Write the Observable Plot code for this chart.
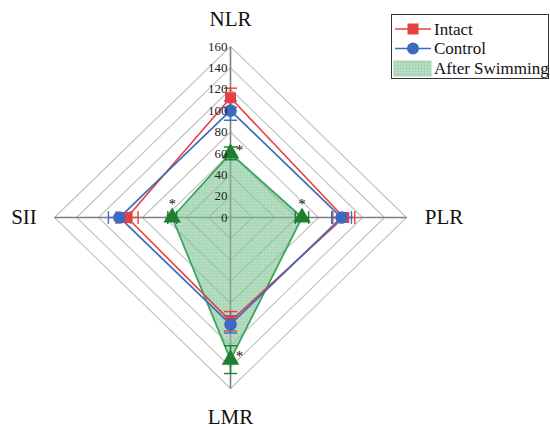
<!DOCTYPE html>
<html><head><meta charset="utf-8">
<script src="https://cdn.jsdelivr.net/npm/d3@7"></script>
<script src="https://cdn.jsdelivr.net/npm/@observablehq/plot@0.6"></script>
<style>
body{margin:0;background:#fff;}
#wrap{position:relative;width:550px;height:429px;font-family:'Liberation Serif',serif;}
#wrap text{font-family:'Liberation Serif',serif !important;}
#legend{position:absolute;left:391px;top:14px;}
</style></head><body><div id="wrap"></div>
<script>
const axisNames = ["NLR", "PLR", "LMR", "SII"];
const intact = [112, 103, 97, 94];
const intactErr = [9, 10, 9, 10];
const control = [100, 101, 100, 101];
const controlErr = [9, 9, 8, 10];
const swim = [60, 65, 133, 53];
const swimErr = [6, 6, 13, 4];
const tickValues = [0, 20, 40, 60, 80, 100, 120, 140, 160];
const seriesNames = ["Intact", "Control", "After Swimming"];

const RED = "#e8403e", BLUE = "#3a6bc0", GREEN = "#3ba55c", DKGREEN = "#1e7f31";
const SERIF = "Liberation Serif";
const maxR = 160;
const dirs = {NLR: [0, 1], PLR: [1, 0], LMR: [0, -1], SII: [-1, 0]};
const cap = 6;

function pts(vals, name) {
  return axisNames.map((a, i) => ({axis: a, v: vals[i], x: dirs[a][0] * vals[i], y: dirs[a][1] * vals[i], name}));
}
function closed(p) { return [...p, p[0]]; }

const grid = [];
tickValues.filter(t => t > 0).forEach(t => {
  axisNames.concat([axisNames[0]]).forEach(a => grid.push({r: t, x: dirs[a][0] * t, y: dirs[a][1] * t}));
});
const spokes = [
  {x1: -maxR, y1: 0, x2: maxR, y2: 0},
  {x1: 0, y1: -maxR, x2: 0, y2: maxR}
];

function errs(vals, e, name) {
  const out = [];
  axisNames.forEach((a, i) => {
    const [dx, dy] = dirs[a];
    const lo = vals[i] - e[i], hi = vals[i] + e[i];
    out.push({x1: dx * lo, y1: dy * lo, x2: dx * hi, y2: dy * hi, name});
    [lo, hi].forEach(v => {
      out.push({x1: dx * v - dy * cap, y1: dy * v - dx * cap, x2: dx * v + dy * cap, y2: dy * v + dx * cap, name});
    });
  });
  return out;
}

const pI = pts(intact, "Intact"), pC = pts(control, "Control"), pS = pts(swim, "After Swimming");
const labels = axisNames.map(a => ({axis: a, x: dirs[a][0] * maxR, y: dirs[a][1] * maxR}));

const plot = Plot.plot({
  width: 550, height: 429,
  marginLeft: 54, marginRight: 144, marginTop: 46, marginBottom: 41,
  x: {domain: [-maxR, maxR], axis: null},
  y: {domain: [-maxR, maxR], axis: null},
  style: {fontFamily: SERIF, overflow: "visible"},
  marks: [
    Plot.line(grid, {x: "x", y: "y", z: "r", stroke: "#c2c2c2", strokeWidth: 1.1}),
    Plot.link(spokes, {x1: "x1", y1: "y1", x2: "x2", y2: "y2", stroke: "#7f7f7f", strokeWidth: 1.6}),
    Plot.line(closed(pS), {x: "x", y: "y", fill: "url(#swimfill)", stroke: GREEN, strokeWidth: 1.8}),
    Plot.line(closed(pI), {x: "x", y: "y", stroke: RED, strokeWidth: 1.6}),
    Plot.line(closed(pC), {x: "x", y: "y", stroke: BLUE, strokeWidth: 1.6}),
    Plot.link(errs(intact, intactErr, "Intact"), {x1: "x1", y1: "y1", x2: "x2", y2: "y2", stroke: RED, strokeWidth: 1.4}),
    Plot.link(errs(control, controlErr, "Control"), {x1: "x1", y1: "y1", x2: "x2", y2: "y2", stroke: BLUE, strokeWidth: 1.4}),
    Plot.link(errs(swim, swimErr, "After Swimming"), {x1: "x1", y1: "y1", x2: "x2", y2: "y2", stroke: DKGREEN, strokeWidth: 1.4}),
    Plot.dot(pI, {x: "x", y: "y", symbol: "square", r: 6.2, fill: RED}),
    Plot.dot(pC, {x: "x", y: "y", symbol: "circle", r: 6.3, fill: BLUE}),
    Plot.dot(pS, {x: "x", y: "y", symbol: "triangle", r: 6.5, fill: DKGREEN}),
    Plot.text(pS.filter(d => d.x === 0), {x: "x", y: "y", text: () => "*", dx: 9, dy: -3, fontSize: 15, fill: "#111", fontFamily: SERIF}),
    Plot.text(pS.filter(d => d.y === 0), {x: "x", y: "y", text: () => "*", dy: -13, fontSize: 15, fill: "#111", fontFamily: SERIF}),
    Plot.text(tickValues, {x: 0, y: d => d, text: d => String(d), textAnchor: "end", dx: -3, fontSize: 13, fill: "#222", fontFamily: SERIF}),
    Plot.text(labels.filter(d => d.axis === "NLR"), {x: "x", y: "y", text: "axis", dy: -27, fontSize: 21, fill: "#111", fontFamily: SERIF}),
    Plot.text(labels.filter(d => d.axis === "LMR"), {x: "x", y: "y", text: "axis", dy: 29, fontSize: 21, fill: "#111", fontFamily: SERIF}),
    Plot.text(labels.filter(d => d.axis === "PLR"), {x: "x", y: "y", text: "axis", dx: 37.5, fontSize: 21, fill: "#111", fontFamily: SERIF}),
    Plot.text(labels.filter(d => d.axis === "SII"), {x: "x", y: "y", text: "axis", dx: -30.5, fontSize: 21, fill: "#111", fontFamily: SERIF})
  ]
});

// textured fill pattern for the "After Swimming" area
const svgSel = d3.select(plot);
const defs = svgSel.insert("defs", ":first-child");
const pat = defs.append("pattern").attr("id", "swimfill").attr("patternUnits", "userSpaceOnUse").attr("width", 3).attr("height", 3);
pat.append("rect").attr("width", 3).attr("height", 3).attr("fill", "#82c798").attr("fill-opacity", 0.55);
pat.append("rect").attr("width", 3).attr("height", 1).attr("fill", "#6fb886").attr("fill-opacity", 0.25);
pat.append("rect").attr("width", 1).attr("height", 3).attr("fill", "#6fb886").attr("fill-opacity", 0.25);
document.getElementById("wrap").appendChild(plot);

// legend
const lg = d3.select("#wrap").append("svg").attr("id", "legend").attr("width", 159).attr("height", 66);
const ldefs = lg.append("defs");
const lpat = ldefs.append("pattern").attr("id", "swimfill2").attr("patternUnits", "userSpaceOnUse").attr("width", 3).attr("height", 3);
lpat.append("rect").attr("width", 3).attr("height", 3).attr("fill", "#82c798").attr("fill-opacity", 0.55);
lpat.append("rect").attr("width", 3).attr("height", 1).attr("fill", "#6fb886").attr("fill-opacity", 0.25);
lpat.append("rect").attr("width", 1).attr("height", 3).attr("fill", "#6fb886").attr("fill-opacity", 0.25);
lg.append("rect").attr("x", 0.5).attr("y", 0.5).attr("width", 157).attr("height", 64).attr("fill", "#fff").attr("stroke", "#333").attr("stroke-width", 1);
const rows = [
  {name: seriesNames[0], color: RED, sym: "square"},
  {name: seriesNames[1], color: BLUE, sym: "circle"},
  {name: seriesNames[2], color: GREEN, sym: "area"}
];
rows.forEach((r, i) => {
  const cy = 15 + i * 19.5;
  if (r.sym === "area") {
    lg.append("rect").attr("x", 3).attr("y", cy - 7).attr("width", 37).attr("height", 15).attr("fill", "url(#swimfill2)").attr("stroke", "#a8d2b2");
  } else {
    lg.append("line").attr("x1", 4).attr("x2", 40).attr("y1", cy).attr("y2", cy).attr("stroke", r.color).attr("stroke-width", 1.6);
    if (r.sym === "square") lg.append("rect").attr("x", 16.5).attr("y", cy - 5.5).attr("width", 11).attr("height", 11).attr("fill", r.color);
    else lg.append("circle").attr("cx", 22).attr("cy", cy).attr("r", 6).attr("fill", r.color);
  }
  lg.append("text").attr("x", 43).attr("y", cy).attr("dy", "0.35em").attr("font-size", 17).attr("fill", "#111")
    .attr("font-family", SERIF).text(r.name);
});
</script></body></html>
